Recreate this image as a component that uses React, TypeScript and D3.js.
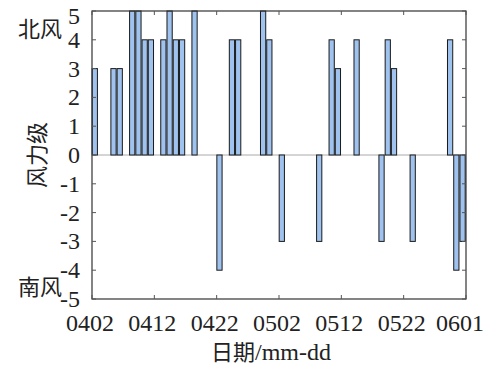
import React, { useEffect, useRef } from 'react';
import * as d3 from 'd3';

// days after 0402 and wind level (+ north, - south)
const dayOffsets = [0, 3, 4, 6, 7, 8, 9, 11, 12, 13, 14, 16, 20, 22, 23, 27, 28, 30, 36, 38, 39, 42, 46, 47, 48, 51, 57, 58, 59];
const windLevels = [3, 3, 3, 5, 5, 4, 4, 4, 5, 4, 4, 5, -4, 4, 4, 5, 4, -3, -3, 4, 3, 4, -3, 4, 3, -3, 4, -4, -3];
const xTickDays = [0, 10, 20, 30, 40, 50, 60];
const xTickLabels = ['0402', '0412', '0422', '0502', '0512', '0522', '0601'];
const yTicks = [-5, -4, -3, -2, -1, 0, 1, 2, 3, 4, 5];

const App: React.FC = () => {
  const svgRef = useRef<SVGSVGElement>(null);

  useEffect(() => {
    if (!svgRef.current) return;
    const width = 489;
    const height = 367;
    const left = 92, right = 466, top = 11, bottom = 299;

    const svg = d3.select(svgRef.current);
    svg.selectAll('*').remove();
    svg.attr('width', width).attr('height', height);

    const x = d3.scaleLinear().domain([0, 60]).range([left, right]);
    const y = d3.scaleLinear().domain([-5, 5]).range([bottom, top]);
    const serif = '"Liberation Serif", "Times New Roman", serif';
    const cjk = '"Noto Sans CJK SC", sans-serif';

    svg.append('rect').attr('width', width).attr('height', height).attr('fill', '#fff');

    // zero line
    svg.append('line')
      .attr('x1', left).attr('x2', right)
      .attr('y1', y(0)).attr('y2', y(0))
      .attr('stroke', '#aaa').attr('stroke-width', 1);

    // bars
    const data = dayOffsets.map((d, i) => ({ d, v: windLevels[i] }));
    svg.selectAll('rect.bar')
      .data(data)
      .enter()
      .append('rect')
      .attr('class', 'bar')
      .attr('x', (p) => x(p.d + 0.03))
      .attr('width', x(0.84) - x(0))
      .attr('y', (p) => y(Math.max(0, p.v)))
      .attr('height', (p) => Math.abs(y(p.v) - y(0)))
      .attr('fill', '#9fc2ee')
      .attr('stroke', '#1a1a1a')
      .attr('stroke-width', 1);

    // frame
    svg.append('rect')
      .attr('x', left).attr('y', top)
      .attr('width', right - left).attr('height', bottom - top)
      .attr('fill', 'none').attr('stroke', '#333').attr('stroke-width', 1.2);

    // inward ticks
    yTicks.forEach((t) => {
      svg.append('line').attr('x1', left).attr('x2', left + 4).attr('y1', y(t)).attr('y2', y(t)).attr('stroke', '#555');
      svg.append('line').attr('x1', right).attr('x2', right - 4).attr('y1', y(t)).attr('y2', y(t)).attr('stroke', '#555');
      svg.append('text')
        .attr('x', left - 12).attr('y', y(t) + (t === 5 ? 13 : 8))
        .attr('text-anchor', 'end')
        .attr('font-family', serif).attr('font-size', 24).attr('fill', '#222')
        .text(t);
    });
    xTickDays.forEach((t, i) => {
      svg.append('line').attr('x1', x(t)).attr('x2', x(t)).attr('y1', bottom).attr('y2', bottom - 4).attr('stroke', '#555');
      svg.append('line').attr('x1', x(t)).attr('x2', x(t)).attr('y1', top).attr('y2', top + 4).attr('stroke', '#555');
      svg.append('text')
        .attr('x', x(t) - (i === xTickDays.length - 1 ? 6 : 2)).attr('y', 331)
        .attr('text-anchor', 'middle')
        .attr('font-family', serif).attr('font-size', 24).attr('fill', '#222')
        .text(xTickLabels[i]);
    });

    // labels
    svg.append('text')
      .attr('x', 40).attr('y', 37)
      .attr('text-anchor', 'middle')
      .attr('font-family', cjk).attr('font-size', 22).attr('fill', '#222')
      .text('北风');
    svg.append('text')
      .attr('x', 40).attr('y', 295)
      .attr('text-anchor', 'middle')
      .attr('font-family', cjk).attr('font-size', 22).attr('fill', '#222')
      .text('南风');
    svg.append('text')
      .attr('transform', `translate(45,${y(0)}) rotate(-90)`)
      .attr('text-anchor', 'middle')
      .attr('font-family', cjk).attr('font-size', 22).attr('fill', '#222')
      .text('风力级');
    const xt = svg.append('text')
      .attr('x', 271).attr('y', 360)
      .attr('text-anchor', 'middle')
      .attr('font-size', 22).attr('fill', '#222');
    xt.append('tspan').attr('font-family', cjk).text('日期');
    xt.append('tspan').attr('font-family', serif).attr('font-size', 24).text('/mm-dd');
  }, []);

  return <svg ref={svgRef} style={{ position: 'absolute', left: 0, top: 0 }}></svg>;
};

export default App;
